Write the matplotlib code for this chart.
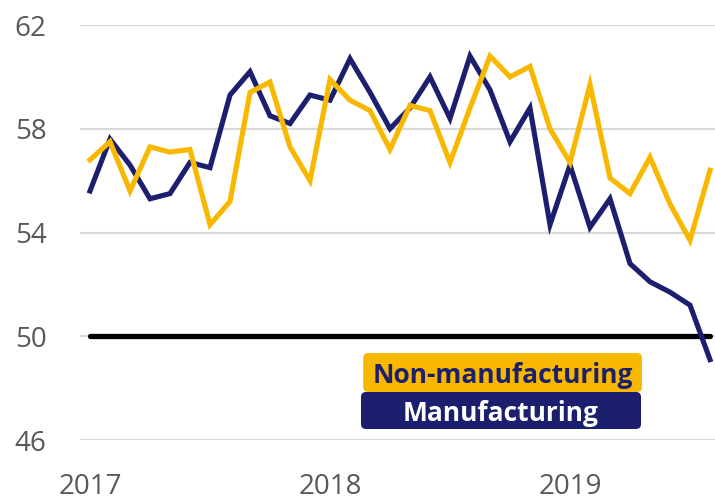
import matplotlib.pyplot as plt
from matplotlib.patches import FancyBboxPatch

# Monthly ISM PMI readings, Jan 2017 - Aug 2019
manufacturing = [55.6, 57.6, 56.6, 55.3, 55.5, 56.7, 56.5, 59.3, 60.2, 58.5, 58.2, 59.3,
                 59.1, 60.7, 59.4, 58.0, 58.8, 60.0, 58.4, 60.8, 59.5, 57.5, 58.8, 54.3,
                 56.6, 54.2, 55.3, 52.8, 52.1, 51.7, 51.2, 49.1]
non_manufacturing = [56.8, 57.5, 55.6, 57.3, 57.1, 57.2, 54.3, 55.2, 59.4, 59.8, 57.3, 56.0,
                     59.9, 59.1, 58.7, 57.2, 58.9, 58.7, 56.7, 58.8, 60.8, 60.0, 60.4, 58.0,
                     56.7, 59.7, 56.1, 55.5, 56.9, 55.1, 53.7, 56.4]
months = list(range(len(manufacturing)))
year_ticks = [0, 12, 24]
year_labels = ["2017", "2018", "2019"]
y_ticks = [46, 50, 54, 58, 62]
threshold = 50

NAVY = "#1b1f6e"
GOLD = "#f9b800"
GRAY = "#595959"

plt.rcParams["font.family"] = ["Open Sans", "DejaVu Sans"]

fig = plt.figure(figsize=(7.15, 4.98), dpi=100)
ax = fig.add_axes([80 / 715, 1 - 440 / 498, 635 / 715, 415 / 498])

for y in y_ticks:
    ax.axhline(y, color="#d9d9d9", lw=1.5, zorder=1)

ax.plot([months[0], months[-1]], [threshold, threshold], color="black", lw=3.8,
        solid_capstyle="round", zorder=2)
ax.plot(months, manufacturing, color=NAVY, lw=3.7, solid_joinstyle="miter", zorder=3)
ax.plot(months, non_manufacturing, color=GOLD, lw=3.7, solid_joinstyle="miter", zorder=4)

ax.set_xlim(-0.5, 31.25)
ax.set_ylim(46, 62)
ax.set_yticks(y_ticks)
ax.set_xticks(year_ticks)
ax.set_xticklabels(year_labels)
ax.tick_params(axis="both", length=0, labelsize=20, labelcolor=GRAY)
ax.tick_params(axis="y", pad=24)
ax.tick_params(axis="x", pad=24)
for s in ax.spines.values():
    s.set_visible(False)

# legend boxes
boxes = [
    ("Manufacturing", NAVY, "white", 0.4425, 0.0265, 0.441, 0.0892),
    ("Non-manufacturing", GOLD, NAVY, 0.446, 0.1157, 0.439, 0.0939),
]
for label, face, txt, x0, y0, w, h in boxes:
    ax.add_patch(FancyBboxPatch((x0, y0), w, h, transform=ax.transAxes,
                                boxstyle="round,pad=0,rounding_size=0.008",
                                mutation_aspect=1.5, fc=face, ec="none",
                                zorder=5, clip_on=False))
    ax.text(x0 + w / 2, y0 + h / 2, label, transform=ax.transAxes, ha="center",
            va="center_baseline", fontsize=19, fontweight="bold", color=txt, zorder=6)

fig.savefig("out.png", dpi=100)
